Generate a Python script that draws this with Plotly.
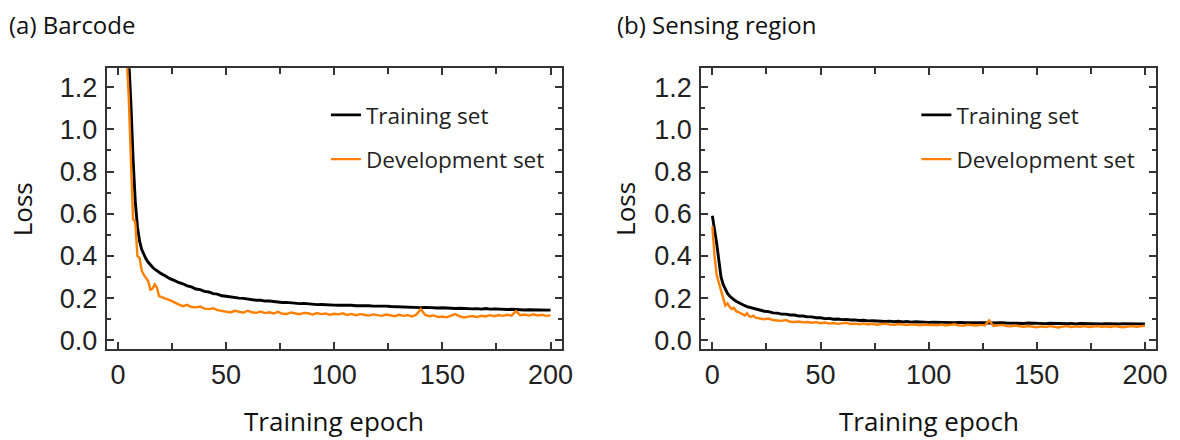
import plotly.graph_objects as go

# ---------------- data ----------------
EPOCHS = [0, 1, 2, 3, 4, 5, 6, 7, 8, 9, 10, 11, 12, 13, 14, 15, 16, 17, 18, 19, 20,
          22, 24, 26, 28, 30, 32, 34, 36, 38, 40, 42, 44, 46, 48,
          50, 52, 54, 56, 58, 60, 62, 64, 66, 68, 70, 72, 74, 76, 78, 80,
          82, 84, 86, 88, 90, 92, 94, 96, 98, 100,
          102, 104, 106, 108, 110, 112, 114, 116, 118, 120,
          122, 124, 126, 128, 130, 132, 134, 136, 138, 140,
          142, 144, 146, 148, 150, 152, 154, 156, 158, 160,
          162, 164, 166, 168, 170, 172, 174, 176, 178, 180,
          182, 184, 186, 188, 190, 192, 194, 196, 198, 200]

# (a) Barcode
barcode_train = [3.0, 2.5, 2.1, 1.8, 1.55, 1.35, 1.12, 0.86, 0.66, 0.54, 0.47, 0.43, 0.405, 0.385, 0.37,
                 0.357, 0.346, 0.337, 0.329, 0.322, 0.316,
                 0.305, 0.292, 0.284, 0.274, 0.268, 0.258, 0.253, 0.243, 0.240, 0.232, 0.229, 0.221, 0.219, 0.211,
                 0.209, 0.205, 0.204, 0.200, 0.199, 0.195, 0.194, 0.190, 0.190, 0.186, 0.186, 0.183, 0.183,
                 0.179, 0.180, 0.177, 0.177, 0.174, 0.175, 0.172, 0.172, 0.169, 0.170, 0.168, 0.169, 0.167,
                 0.166, 0.167, 0.165, 0.166, 0.164, 0.165, 0.163, 0.164, 0.162, 0.163,
                 0.161, 0.162, 0.160, 0.159, 0.160, 0.158, 0.158, 0.156, 0.157, 0.155,
                 0.156, 0.154, 0.155, 0.153, 0.154, 0.152, 0.153, 0.151, 0.152, 0.150,
                 0.151, 0.149, 0.150, 0.148, 0.151, 0.148, 0.149, 0.147, 0.148, 0.146,
                 0.147, 0.145, 0.146, 0.144, 0.145, 0.144, 0.145, 0.143, 0.144, 0.143]
barcode_dev = [3.0, 2.4, 1.95, 1.6, 1.35, 1.15, 0.85, 0.575, 0.56, 0.40, 0.39, 0.33, 0.31, 0.295, 0.28,
               0.24, 0.245, 0.265, 0.25, 0.21, 0.205,
               0.198, 0.190, 0.178, 0.170, 0.162, 0.168, 0.158, 0.156, 0.160, 0.150, 0.148, 0.152, 0.143, 0.140,
               0.135, 0.132, 0.140, 0.136, 0.131, 0.140, 0.133, 0.130, 0.136, 0.129, 0.133, 0.127, 0.135,
               0.126, 0.125, 0.132, 0.127, 0.124, 0.130, 0.128, 0.122, 0.129, 0.124, 0.127, 0.121, 0.126,
               0.123, 0.128, 0.120, 0.125, 0.119, 0.124, 0.121, 0.117, 0.123, 0.119,
               0.116, 0.122, 0.118, 0.114, 0.121, 0.116, 0.119, 0.113, 0.122, 0.148,
               0.120, 0.114, 0.118, 0.110, 0.113, 0.109, 0.117, 0.124, 0.113, 0.108,
               0.112, 0.115, 0.110, 0.116, 0.113, 0.119, 0.114, 0.120, 0.116, 0.121,
               0.117, 0.138, 0.119, 0.122, 0.117, 0.123, 0.118, 0.121, 0.116, 0.118]

# (b) Sensing region
sensing_train = [0.59, 0.53, 0.46, 0.38, 0.30, 0.265, 0.24, 0.222, 0.21, 0.20, 0.192, 0.185, 0.179, 0.173,
                 0.168, 0.164, 0.160, 0.157, 0.154, 0.151, 0.148,
                 0.144, 0.138, 0.136, 0.130, 0.129, 0.124, 0.124, 0.120, 0.120, 0.115, 0.115, 0.111, 0.111, 0.107,
                 0.107, 0.103, 0.104, 0.100, 0.101, 0.098, 0.099, 0.096, 0.097, 0.094, 0.095, 0.092, 0.093,
                 0.091, 0.092, 0.089, 0.091, 0.088, 0.090, 0.087, 0.089, 0.086, 0.088, 0.086, 0.087, 0.085,
                 0.086, 0.085, 0.086, 0.084, 0.085, 0.084, 0.085, 0.083, 0.084, 0.083,
                 0.084, 0.082, 0.083, 0.082, 0.083, 0.081, 0.083, 0.082, 0.081, 0.082,
                 0.081, 0.080, 0.082, 0.081, 0.080, 0.081, 0.079, 0.081, 0.080, 0.079,
                 0.080, 0.079, 0.080, 0.078, 0.080, 0.079, 0.078, 0.080, 0.079, 0.078,
                 0.079, 0.078, 0.079, 0.077, 0.079, 0.078, 0.077, 0.079, 0.078, 0.078]
sensing_dev = [0.54, 0.40, 0.31, 0.27, 0.235, 0.20, 0.165, 0.175, 0.158, 0.148, 0.154, 0.138, 0.134, 0.128,
               0.125, 0.118, 0.128, 0.114, 0.111, 0.117, 0.107,
               0.104, 0.100, 0.103, 0.096, 0.094, 0.092, 0.096, 0.088, 0.087, 0.089, 0.085, 0.087, 0.083, 0.086,
               0.081, 0.084, 0.079, 0.082, 0.078, 0.080, 0.083, 0.077, 0.079, 0.076, 0.080, 0.075, 0.078,
               0.074, 0.077, 0.079, 0.075, 0.073, 0.077, 0.074, 0.072, 0.076, 0.073, 0.071, 0.075, 0.072,
               0.074, 0.071, 0.075, 0.070, 0.073, 0.076, 0.071, 0.069, 0.074, 0.072,
               0.070, 0.073, 0.071, 0.094, 0.068, 0.071, 0.073, 0.068, 0.066, 0.070,
               0.067, 0.064, 0.068, 0.065, 0.062, 0.066, 0.063, 0.067, 0.064, 0.061,
               0.065, 0.068, 0.063, 0.066, 0.064, 0.067, 0.063, 0.065, 0.068, 0.064,
               0.066, 0.063, 0.067, 0.064, 0.062, 0.065, 0.068, 0.064, 0.066, 0.069]

PANEL_TITLES = ["(a) Barcode", "(b) Sensing region"]
SERIES_NAMES = ["Training set", "Development set"]
X_TITLE = "Training epoch"
Y_TITLE = "Loss"

BLACK = "#000000"
ORANGE = "#FF8000"
FRAME = "#333333"
TEXT_FONT = "Open Sans"
TICK_FONT = "Liberation Sans"

W, H = 1180, 440

fig = go.Figure()

panels = [(barcode_train, barcode_dev, "x", "y", "legend"),
          (sensing_train, sensing_dev, "x2", "y2", "legend2")]
for tr, dv, xa, ya, lg in panels:
    fig.add_trace(go.Scatter(x=EPOCHS, y=tr, mode="lines", name=SERIES_NAMES[0],
                             line=dict(color=BLACK, width=2.9), xaxis=xa, yaxis=ya,
                             legend=lg, legendgroup=lg + "a", showlegend=True))
    fig.add_trace(go.Scatter(x=EPOCHS, y=dv, mode="lines", name=SERIES_NAMES[1],
                             line=dict(color=ORANGE, width=2.4), xaxis=xa, yaxis=ya,
                             legend=lg, legendgroup=lg + "b", showlegend=True))


def px_x(v):
    return v / W


def px_y(v):
    return 1 - v / H


xcommon = dict(range=[-5.2, 205.3], tick0=0, dtick=50, ticks="inside", ticklen=7, tickwidth=1.5,
               tickcolor=FRAME, showline=True, linecolor=FRAME, linewidth=2, mirror="ticks",
               showgrid=False, zeroline=False,
               minor=dict(tick0=0, dtick=25, ticks="inside", ticklen=6, tickwidth=1.5, tickcolor=FRAME),
               tickfont=dict(family=TICK_FONT, size=27, color="#222222"), ticklabelstandoff=0,
               fixedrange=True)
ycommon = dict(range=[-0.042, 1.289], tick0=0, dtick=0.2, tickformat=".1f", ticks="inside", ticklen=7,
               tickwidth=1.5, tickcolor=FRAME, showline=True, linecolor=FRAME, linewidth=2,
               mirror="ticks", showgrid=False, zeroline=False,
               minor=dict(tick0=0, dtick=0.1, ticks="inside", ticklen=4, tickwidth=1.5, tickcolor=FRAME),
               tickfont=dict(family=TICK_FONT, size=27, color="#222222"), ticklabelstandoff=2,
               fixedrange=True)

ydom = [px_y(354), px_y(69.3)]
legend_common = dict(xanchor="left", yanchor="top", bgcolor="rgba(0,0,0,0)",
                     font=dict(family=TEXT_FONT, size=22.5, color="#222222"),
                     tracegroupgap=12, itemwidth=30)
fig.update_layout(
    width=W, height=H, margin=dict(l=0, r=0, t=0, b=0),
    paper_bgcolor="white", plot_bgcolor="white",
    xaxis=dict(xcommon, domain=[px_x(107.7), px_x(567.3)], anchor="y"),
    yaxis=dict(ycommon, domain=ydom, anchor="x"),
    xaxis2=dict(xcommon, domain=[px_x(707.7), px_x(1167.3)], anchor="y2"),
    yaxis2=dict(ycommon, domain=ydom, anchor="x2"),
    legend=dict(legend_common, x=px_x(329), y=px_y(95)),
    legend2=dict(legend_common, x=px_x(925), y=px_y(95)),
    showlegend=True,
)

annots = []
for i, (tx, lx, cx) in enumerate([(7, 21.7, 337.5), (621, 631, 937.5)]):
    annots.append(dict(text=PANEL_TITLES[i], x=px_x(tx), y=px_y(25), xref="paper", yref="paper",
                       xanchor="left", yanchor="middle", showarrow=False,
                       font=dict(family=TEXT_FONT, size=24, color="#111111")))
    annots.append(dict(text=Y_TITLE, x=px_x(lx), y=px_y(211.7), xref="paper", yref="paper",
                       xanchor="center", yanchor="middle", showarrow=False, textangle=-90,
                       font=dict(family=TEXT_FONT, size=26, color="#111111")))
    annots.append(dict(text=X_TITLE, x=px_x(cx), y=px_y(427), xref="paper", yref="paper",
                       xanchor="center", yanchor="middle", showarrow=False,
                       font=dict(family=TEXT_FONT, size=26, color="#111111")))
fig.update_layout(annotations=annots)

fig.write_html("out.html", config={"displayModeBar": False},
               post_script="document.body.style.margin='0px';")
